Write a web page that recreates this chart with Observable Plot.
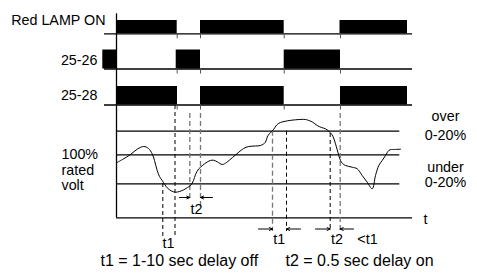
<!DOCTYPE html>
<html><head><meta charset="utf-8">
<script src="https://cdn.jsdelivr.net/npm/d3@7"></script>
<script src="https://cdn.jsdelivr.net/npm/@observablehq/plot@0.6"></script>
<style>body{margin:0;background:#fff} svg{display:block}</style>
</head><body><div id="chart"></div>
<script>
// ---- data (time in diagram units, t = 0 at the vertical axis) ----
const rowNames = ["Red LAMP ON", "25-26", "25-28"];
const lampOn = [[0, 60.7], [84, 167.7], [223.5, 291]];
const contact2526 = [[-13.7, 0], [59.7, 84], [167.7, 224]];
const contact2528 = [[0, 61], [84, 167.7], [224, 291]];
const switchTimes = [60.7, 84, 167.7, 224];

// voltage trace: time and level (diagram units, larger = lower)
const voltTime = [0,6,14,21,27.3,32,35.7,38,40.7,43,45.7,50.7,55,59,63,67.3,71,74,77,79,82.3,86,90.7,94,97,101,105.7,110,116,122.3,127,132.3,139,144,147,149,150.7,153,155.7,160.7,164,169,179,189,192.3,196,200.7,205,209,214,216.5,219,222.3,224,226,229,235.7,240.7,245.7,250.7,255.7,259,262.3,265.7,269,272.3,275,277.3,284];
const voltLevel = [162.3,159,154,148.5,146,148,153.3,160,170,176,180,187.3,190.5,191.7,191,189.3,187,185,180,174,168.3,165,161.5,160,159.7,161.5,164,162,157,151.7,148,146,145.5,145,143.5,141.7,136.7,133,130.7,124,122,120.7,119.3,119,120,121.5,125,127,128.3,132.3,136,143.3,155,160,163,165,166.7,168.3,175,181.7,188.3,175,165,160,155,150,149,149,148.7];

const thresholdLevels = [130.7, 154.3, 183.3];
const timeAxisLevel = 217.3;
const rightLabels = ["over", "0-20%", "under", "0-20%"];
const leftLabels = ["100%", "rated", "volt"];
const captions = ["t1 = 1-10 sec delay off", "t2 = 0.5 sec delay on"];

// delay markers (time of each dashed line)
const blackMarks = [46.3, 58.5, 170, 213.7];
const grayMarks = [73.3, 84, 156, 223.7];
// delay arrows: [from, to]
const arrowsLeft = [[63, 73.3], [96, 84]];
const arrowsRight = [[142, 156], [184, 170], [199, 213.7], [237, 223.7]];
const delayLabels = ["t1", "t2", "t1", "t2", "<t1"];

// ---- layout ----
const rows = [
  {name: rowNames[0], spans: lampOn, top: 20, bottom: 33.3, lx: -11, ly: 20},
  {name: rowNames[1], spans: contact2526, top: 49.5, bottom: 68.5, lx: -19, ly: 60},
  {name: rowNames[2], spans: contact2528, top: 86, bottom: 104.5, lx: -19, ly: 95}
];
const bars = rows.flatMap(r => r.spans.map(([a, b]) => ({x1: a, x2: b, y1: r.top, y2: r.bottom})));
const ticks = rows.flatMap(r => switchTimes.map(t => ({t, y1: r.bottom, y2: r.bottom + 5})));
const curve = voltTime.map((t, i) => ({t, v: voltLevel[i]}));
const blackDash = blackMarks.map((t, i) => ({t, y1: [183, 105, 130.7, 133][i], y2: [237, 237, 231, 231][i]}));
const grayDash = grayMarks.map((t, i) => ({t, y1: [113, 113, 130.7, 113][i], y2: [198, 206, 231, 231][i]}));
const arrows = [
  ...arrowsLeft.map(([a, b]) => ({a, b, y: 197})),
  ...arrowsRight.map(([a, b]) => ({a, b, y: 228.5}))
];
const delayText = delayLabels.map((s, i) => ({s, t: [52, 80, 162.7, 220.5, 251][i], y: [243, 208.5, 239, 239, 239][i]}));
const rightText = rightLabels.map((s, i) => ({s, y: [116, 135, 167, 182][i]}));
const leftText = leftLabels.map((s, i) => ({s, y: [154, 169.5, 184.5][i]}));
const captionText = captions.map((s, i) => ({s, t: [-16, 169][i]}));

const font = "'Liberation Sans', Arial, Helvetica, sans-serif";
const fs = 14.3;
const chart = Plot.plot({
  width: 477, height: 274,
  margin: 0,
  x: {domain: [-116, 361], range: [0, 477], axis: null},
  y: {domain: [0, 274], range: [0, 274], axis: null},
  style: {fontFamily: font, background: "#fff"},
  marks: [
    Plot.rect(bars, {x1: "x1", x2: "x2", y1: "y1", y2: "y2", fill: "black"}),
    Plot.ruleY(rows, {y: "bottom", x1: () => -12, x2: () => 296, stroke: "black", strokeWidth: 1.3}),
    Plot.ruleX(ticks, {x: "t", y1: "y1", y2: "y2", stroke: "#555", strokeWidth: 1}),
    Plot.ruleX([0], {y1: () => 13.3, y2: () => timeAxisLevel, stroke: "black", strokeWidth: 1.3}),
    Plot.ruleY(thresholdLevels, {x1: () => 0, x2: () => 283.3, stroke: "black", strokeWidth: 1.2}),
    Plot.ruleY([timeAxisLevel], {x1: () => 0, x2: () => 296, stroke: "black", strokeWidth: 1.3}),
    Plot.ruleX(blackDash, {x: "t", y1: "y1", y2: "y2", stroke: "black", strokeWidth: 1, strokeDasharray: "4,3"}),
    Plot.ruleX(grayDash, {x: "t", y1: "y1", y2: "y2", stroke: "#777", strokeWidth: 1.3, strokeDasharray: "5,3"}),
    Plot.line(curve, {x: "t", y: "v", curve: "catmull-rom", stroke: "black", strokeWidth: 1}),
    Plot.arrow(arrows, {x1: "a", x2: "b", y1: "y", y2: "y", stroke: "black", strokeWidth: 1, headLength: 5, headAngle: 50}),
    Plot.text(rows, {x: "lx", y: "ly", text: "name", textAnchor: "end", fontSize: fs, fill: "black"}),
    Plot.text(leftText, {x: () => -55, y: "y", text: "s", textAnchor: "start", fontSize: fs, fill: "black"}),
    Plot.text(rightText, {x: () => 329, y: "y", text: "s", textAnchor: "middle", fontSize: fs, fill: "black"}),
    Plot.text(["t"], {x: () => 309, y: () => 219, text: d => d, fontSize: fs, fill: "black"}),
    Plot.text(delayText, {x: "t", y: "y", text: "s", fontSize: fs, fill: "black"}),
    Plot.text(captionText, {x: "t", y: () => 260, text: "s", textAnchor: "start", fontSize: 16, fill: "black"})
  ]
});
document.getElementById("chart").append(chart);
</script>
</body></html>
